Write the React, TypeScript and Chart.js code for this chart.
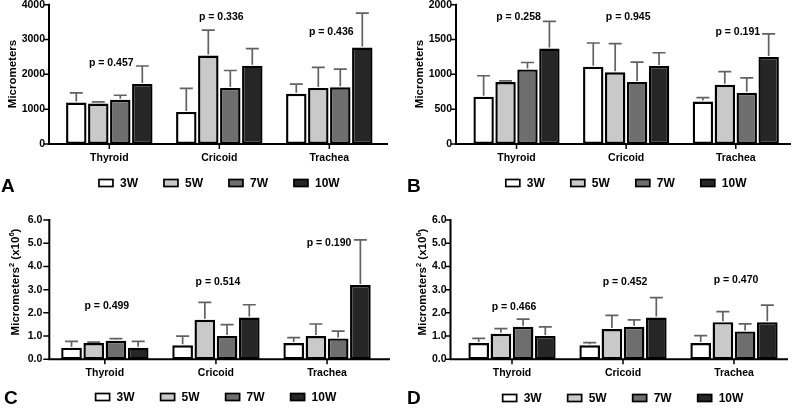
import React, { useEffect, useRef } from "react";
import { Chart, registerables } from "chart.js";

Chart.register(...registerables);
Chart.defaults.font.family = "'Liberation Sans', Arial, sans-serif";
Chart.defaults.color = "#000";

// ---------- data ----------
const categories = ["Thyroid", "Cricoid", "Trachea"];
const seriesLabels = ["3W", "5W", "7W", "10W"];
const seriesColors = ["#ffffff", "#c9c9c9", "#6e6e6e", "#262626"];

// Panel A (Micrometers)
const aMean3W = [1190, 920, 1440];
const aMean5W = [1160, 2540, 1610];
const aMean7W = [1270, 1610, 1630];
const aMean10W = [1720, 2250, 2770];
const aSd3W = [280, 680, 280];
const aSd5W = [50, 730, 590];
const aSd7W = [130, 500, 520];
const aSd10W = [520, 490, 990];
const aPValues = ["p = 0.457", "p = 0.336", "p = 0.436"];
const aPAnchor = [2320, 3640, 3200];
const aTicks = { max: 4000, step: 1000, decimals: 0 };

// Panel B (Micrometers)
const bMean3W = [680, 1110, 610];
const bMean5W = [890, 1030, 850];
const bMean7W = [1070, 890, 735];
const bMean10W = [1370, 1120, 1250];
const bSd3W = [300, 340, 55];
const bSd5W = [15, 410, 190];
const bSd7W = [100, 285, 215];
const bSd10W = [390, 190, 330];
const bPValues = ["p = 0.258", "p = 0.945", "p = 0.191"];
const bPAnchor = [1828, 1823, 1604];
const bTicks = { max: 2000, step: 500, decimals: 0 };

// Panel C (Micrometers^2 x10^6)
const cMean3W = [0.5, 0.6, 0.7];
const cMean5W = [0.7, 1.7, 1.0];
const cMean7W = [0.8, 1.0, 0.9];
const cMean10W = [0.5, 1.8, 3.2];
const cSd3W = [0.27, 0.4, 0.23];
const cSd5W = [0.04, 0.75, 0.52];
const cSd7W = [0.09, 0.49, 0.31];
const cSd10W = [0.27, 0.55, 1.94];
const cPValues = ["p = 0.499", "p = 0.514", "p = 0.190"];
const cPAnchor = [2.27, 3.34, 5.02];
const cTicks = { max: 6, step: 1, decimals: 1 };

// Panel D (Micrometers^2 x10^6)
const dMean3W = [0.7, 0.6, 0.7];
const dMean5W = [1.1, 1.3, 1.6];
const dMean7W = [1.4, 1.4, 1.2];
const dMean10W = [1.0, 1.8, 1.6];
const dSd3W = [0.2, 0.12, 0.32];
const dSd5W = [0.22, 0.59, 0.45];
const dSd7W = [0.33, 0.3, 0.33];
const dSd10W = [0.4, 0.86, 0.73];
const dPValues = ["p = 0.466", "p = 0.452", "p = 0.470"];
const dPAnchor = [2.25, 3.33, 3.42];
const dTicks = { max: 6, step: 1, decimals: 1 };

// ---------- layout ----------
type Layout = {
  left: number; top: number; w: number; h: number;
  chartLeft: number; chartRight: number; chartTop: number; chartBottom: number;
  axisX: number; axisEnd: number; tickLen: number; labelGap: number;
  titleX: number; titleCY: number; squared: boolean;
  legendY: number; letter: string; letterX: number; letterY: number;
};

const panels = [
  {
    means: [aMean3W, aMean5W, aMean7W, aMean10W], sds: [aSd3W, aSd5W, aSd7W, aSd10W],
    pValues: aPValues, pAnchor: aPAnchor, ticks: aTicks,
    layout: { left: 0, top: 0, w: 400, h: 200, chartLeft: 54.3, chartRight: 384.3, chartTop: 4.7, chartBottom: 144,
      axisX: 49, axisEnd: 388, tickLen: 4, labelGap: 4, titleX: 12.5, titleCY: 74, squared: false,
      legendY: 183, letter: "A", letterX: 1, letterY: 192 } as Layout,
  },
  {
    means: [bMean3W, bMean5W, bMean7W, bMean10W], sds: [bSd3W, bSd5W, bSd7W, bSd10W],
    pValues: bPValues, pAnchor: bPAnchor, ticks: bTicks,
    layout: { left: 400, top: 0, w: 393, h: 200, chartLeft: 61.7, chartRight: 390.6, chartTop: 4.7, chartBottom: 144,
      axisX: 56, axisEnd: 391, tickLen: 4, labelGap: 4, titleX: 19.5, titleCY: 74, squared: false,
      legendY: 183, letter: "B", letterX: 7, letterY: 192 } as Layout,
  },
  {
    means: [cMean3W, cMean5W, cMean7W, cMean10W], sds: [cSd3W, cSd5W, cSd7W, cSd10W],
    pValues: cPValues, pAnchor: cPAnchor, ticks: cTicks,
    layout: { left: 0, top: 200, w: 400, h: 208, chartLeft: 49.3, chartRight: 382.6, chartTop: 20, chartBottom: 159.3,
      axisX: 49.3, axisEnd: 390, tickLen: 5, labelGap: 7, titleX: 16, titleCY: 82, squared: true,
      legendY: 197, letter: "C", letterX: 4, letterY: 204 } as Layout,
  },
  {
    means: [dMean3W, dMean5W, dMean7W, dMean10W], sds: [dSd3W, dSd5W, dSd7W, dSd10W],
    pValues: dPValues, pAnchor: dPAnchor, ticks: dTicks,
    layout: { left: 400, top: 200, w: 393, h: 208, chartLeft: 56.5, chartRight: 389.5, chartTop: 20, chartBottom: 159.3,
      axisX: 50.5, axisEnd: 388, tickLen: 4, labelGap: 4, titleX: 23, titleCY: 82, squared: true,
      legendY: 198, letter: "D", letterX: 7, letterY: 204 } as Layout,
  },
];

const FONT = "'Liberation Sans', Arial, sans-serif";

const decorPlugin = {
  id: "decor",
  afterDatasetsDraw(chart: any, _args: any, opts: any) {
    const ctx: CanvasRenderingContext2D = chart.ctx;
    const L: Layout = opts.layout;
    const ca = chart.chartArea;
    const ys = chart.scales.y;
    const xs = chart.scales.x;
    ctx.save();
    // error bars
    ctx.strokeStyle = "#626262";
    ctx.lineWidth = 1.7;
    chart.data.datasets.forEach((ds: any, i: number) => {
      const meta = chart.getDatasetMeta(i);
      meta.data.forEach((el: any, j: number) => {
        const top = ys.getPixelForValue(ds.data[j] + ds.errors[j]);
        const cap = 13;
        ctx.beginPath();
        ctx.moveTo(el.x, el.y - 1);
        ctx.lineTo(el.x, top);
        ctx.moveTo(el.x - cap / 2, top);
        ctx.lineTo(el.x + cap / 2, top);
        ctx.stroke();
      });
    });
    // axes
    ctx.strokeStyle = "#000";
    ctx.lineWidth = 2;
    ctx.beginPath();
    ctx.moveTo(L.axisX, ca.top - 1);
    ctx.lineTo(L.axisX, ca.bottom + 1);
    ctx.moveTo(L.axisX - 1, ca.bottom);
    ctx.lineTo(L.axisEnd, ca.bottom);
    ctx.stroke();
    ctx.lineWidth = 1.5;
    ctx.beginPath();
    ys.ticks.forEach((t: any) => {
      const py = ys.getPixelForValue(t.value);
      ctx.moveTo(L.axisX - L.tickLen - 1, py);
      ctx.lineTo(L.axisX, py);
    });
    xs.ticks.forEach((_t: any, i: number) => {
      const px = xs.getPixelForValue(i);
      ctx.moveTo(px, ca.bottom);
      ctx.lineTo(px, ca.bottom + 5);
    });
    ctx.stroke();
    // p values
    ctx.fillStyle = "#000";
    ctx.font = `bold 10.5px ${FONT}`;
    ctx.textAlign = "center";
    ctx.textBaseline = "middle";
    opts.pValues.forEach((txt: string, i: number) => {
      ctx.fillText(txt, xs.getPixelForValue(i) + 2, ys.getPixelForValue(opts.pAnchor[i]));
    });
    // y title
    ctx.save();
    ctx.translate(L.titleX, L.titleCY);
    ctx.rotate(-Math.PI / 2);
    ctx.textAlign = "left";
    ctx.textBaseline = "middle";
    const big = `bold 11.5px ${FONT}`;
    const small = `bold 7.5px ${FONT}`;
    const parts: [string, boolean][] = L.squared
      ? [["Micrometers", false], ["2", true], [" (x10", false], ["6", true], [")", false]]
      : [["Micrometers", false]];
    let total = 0;
    parts.forEach(([s, sup]) => {
      ctx.font = sup ? small : big;
      total += ctx.measureText(s).width;
    });
    let cx = -total / 2;
    parts.forEach(([s, sup]) => {
      ctx.font = sup ? small : big;
      ctx.fillText(s, cx, sup ? -4 : 0);
      cx += ctx.measureText(s).width;
    });
    ctx.restore();
    // legend
    const pitch = 65, boxW = 14, boxH = 7, gap = 7;
    ctx.font = `bold 12px ${FONT}`;
    const lastW = boxW + gap + ctx.measureText(seriesLabels[seriesLabels.length - 1]).width;
    const totalW = pitch * (seriesLabels.length - 1) + lastW;
    let lx = (ca.left + ca.right) / 2 - totalW / 2;
    ctx.textAlign = "left";
    ctx.textBaseline = "middle";
    seriesLabels.forEach((lab, i) => {
      ctx.fillStyle = seriesColors[i];
      ctx.fillRect(lx, L.legendY - boxH / 2, boxW, boxH);
      ctx.strokeStyle = "#000";
      ctx.lineWidth = 1.7;
      ctx.strokeRect(lx, L.legendY - boxH / 2, boxW, boxH);
      ctx.fillStyle = "#000";
      ctx.fillText(lab, lx + boxW + gap, L.legendY + 0.5);
      lx += pitch;
    });
    // panel letter
    ctx.font = `bold 19px ${FONT}`;
    ctx.textBaseline = "alphabetic";
    ctx.fillText(L.letter, L.letterX, L.letterY);
    ctx.restore();
  },
};

function Panel({ p }: { p: (typeof panels)[number] }) {
  const ref = useRef<HTMLCanvasElement>(null);
  useEffect(() => {
    const L = p.layout;
    const chart = new Chart(ref.current!, {
      type: "bar",
      data: {
        labels: categories,
        datasets: seriesLabels.map((lab, i) => ({
          label: lab,
          data: p.means[i],
          errors: p.sds[i],
          backgroundColor: seriesColors[i],
          borderColor: "#000",
          borderWidth: 2.4,
          borderSkipped: false,
          barPercentage: 0.93,
          categoryPercentage: 0.8,
        })) as any,
      },
      options: {
        responsive: false,
        animation: false,
        events: [],
        layout: { padding: { top: L.chartTop, right: L.w - L.chartRight, left: 0, bottom: 0 } },
        plugins: {
          legend: { display: false },
          tooltip: { enabled: false },
          decor: { layout: L, pValues: p.pValues, pAnchor: p.pAnchor },
        } as any,
        scales: {
          x: {
            type: "category",
            offset: true,
            grid: { display: false, drawTicks: false },
            border: { display: false },
            ticks: { font: { size: 10.5, weight: "bold" }, color: "#000", padding: 8, maxRotation: 0 },
            afterFit: (s: any) => {
              s.height = L.h - L.chartBottom;
              s.paddingLeft = 0;
              s.paddingRight = 0;
            },
          },
          y: {
            min: 0,
            max: p.ticks.max,
            grid: { display: false, drawTicks: false },
            border: { display: false },
            ticks: {
              stepSize: p.ticks.step,
              font: { size: 10.5, weight: "bold" },
              color: "#000",
              padding: L.chartLeft - L.axisX + L.labelGap,
              callback: (v: any) => Number(v).toFixed(p.ticks.decimals),
            },
            afterFit: (s: any) => {
              s.width = L.chartLeft;
              s.paddingTop = 0;
              s.paddingBottom = 0;
            },
          },
        },
      },
      plugins: [decorPlugin],
    });
    return () => chart.destroy();
  }, [p]);
  const L = p.layout;
  return (
    <canvas
      ref={ref}
      width={L.w}
      height={L.h}
      style={{ position: "absolute", left: L.left, top: L.top, width: L.w, height: L.h }}
    />
  );
}

export default function App() {
  return (
    <div style={{ position: "absolute", left: 0, top: 0, width: 793, height: 408, background: "#fff" }}>
      {panels.map((p, i) => (
        <Panel key={i} p={p} />
      ))}
    </div>
  );
}
